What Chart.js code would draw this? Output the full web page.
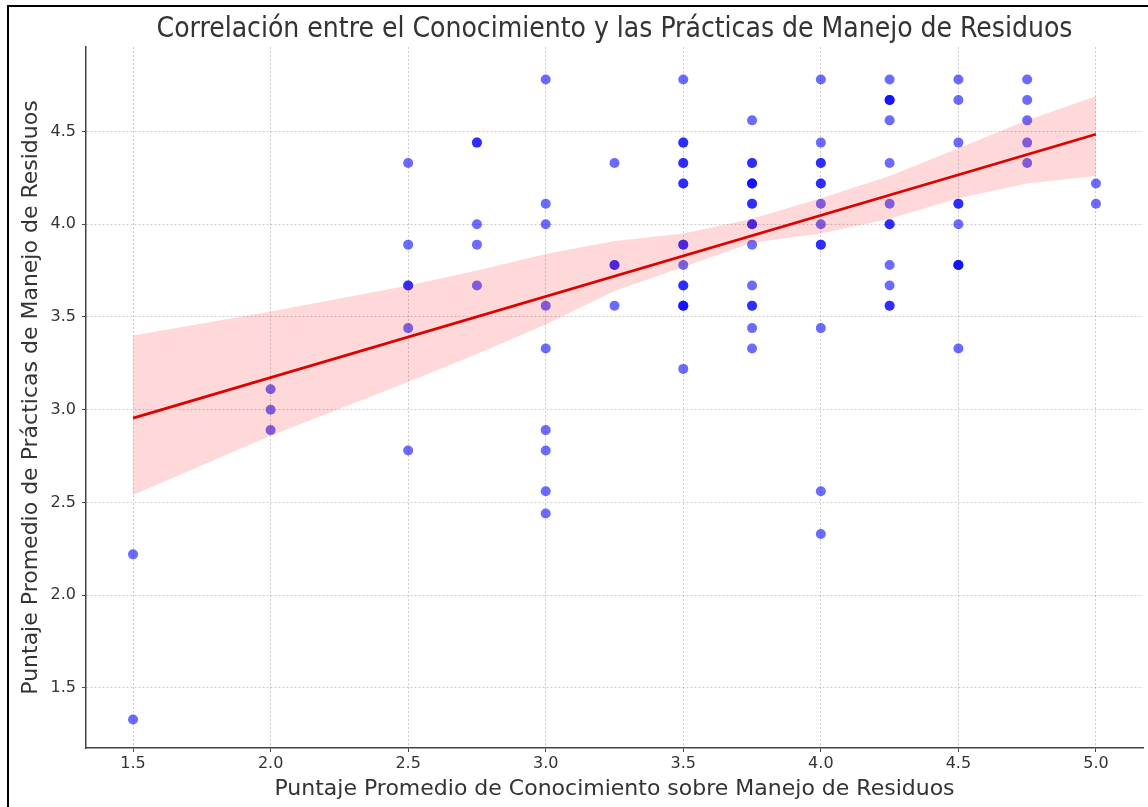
<!DOCTYPE html>
<html>
<head>
<meta charset="utf-8">
<script src="https://cdn.jsdelivr.net/npm/chart.js@4"></script>
<style>
  html, body { margin: 0; padding: 0; background: #fff; }
  #wrap { position: relative; width: 1148px; height: 807px; }
</style>
</head>
<body>
<div id="wrap"><canvas id="chart" width="1148" height="807"></canvas></div>
<script>
// Knowledge score levels (x) and the practices scores seen at each level (y),
// read off the picture; repeated values are overlapping respondents
const knowledgeLevels = [1.5, 2.0, 2.5, 2.75, 3.0, 3.25, 3.5, 3.75, 4.0, 4.25, 4.5, 4.75, 5.0];
const practicesAt1_5 = [2.22, 1.33];
const practicesAt2_0 = [3.11, 3.0, 2.89];
const practicesAt2_5 = [4.33, 3.89, 3.67, 3.67, 3.44, 2.78];
const practicesAt2_75 = [4.44, 4.44, 4.0, 3.89, 3.67];
const practicesAt3_0 = [4.78, 4.11, 4.0, 3.56, 3.33, 2.89, 2.78, 2.56, 2.44];
const practicesAt3_25 = [4.33, 3.78, 3.78, 3.56];
const practicesAt3_5 = [4.78, 4.44, 4.44, 4.33, 4.33, 4.22, 4.22, 3.89, 3.89, 3.78, 3.67, 3.67, 3.56, 3.56, 3.56, 3.22];
const practicesAt3_75 = [4.56, 4.33, 4.33, 4.22, 4.22, 4.22, 4.11, 4.11, 4.0, 4.0, 3.89, 3.67, 3.56, 3.56, 3.44, 3.33];
const practicesAt4_0 = [4.78, 4.44, 4.33, 4.33, 4.22, 4.22, 4.11, 4.0, 3.89, 3.89, 3.44, 2.56, 2.33];
const practicesAt4_25 = [4.78, 4.67, 4.67, 4.67, 4.56, 4.33, 4.11, 4.0, 4.0, 3.78, 3.67, 3.56, 3.56];
const practicesAt4_5 = [4.78, 4.67, 4.44, 4.11, 4.11, 4.0, 3.78, 3.78, 3.78, 3.33];
const practicesAt4_75 = [4.78, 4.67, 4.56, 4.44, 4.33];
const practicesAt5_0 = [4.22, 4.11];
const practicesByLevel = [
    practicesAt1_5, practicesAt2_0, practicesAt2_5, practicesAt2_75, practicesAt3_0,
    practicesAt3_25, practicesAt3_5, practicesAt3_75, practicesAt4_0, practicesAt4_25,
    practicesAt4_5, practicesAt4_75, practicesAt5_0
];

// regression line end points and confidence band
const fitX = [1.5, 5.0];
const fitY = [2.955, 4.485];
const bandX = [1.5, 2.0, 2.5, 2.75, 3.0, 3.25, 3.5, 3.75, 4.0, 4.25, 4.5, 4.75, 5.0];
const bandUpper = [3.40, 3.53, 3.67, 3.75, 3.84, 3.91, 3.95, 4.03, 4.14, 4.26, 4.41, 4.56, 4.69];
const bandLower = [2.54, 2.86, 3.15, 3.30, 3.46, 3.64, 3.77, 3.90, 3.95, 4.03, 4.14, 4.22, 4.26];

const xTicks = [1.5, 2.0, 2.5, 3.0, 3.5, 4.0, 4.5, 5.0];
const yTicks = [1.5, 2.0, 2.5, 3.0, 3.5, 4.0, 4.5];

const toPoints = (xs, ys) => xs.map((x, i) => ({ x: x, y: ys[i] }));

const scatterPoints = [];
knowledgeLevels.forEach((k, i) => {
    practicesByLevel[i].forEach((p) => scatterPoints.push({ x: k, y: p }));
});

// thin black frame on the top and left edges of the picture
const frame = {
    id: "frame",
    afterDraw(chart) {
        const ctx = chart.ctx;
        ctx.save();
        ctx.fillStyle = "#000";
        ctx.fillRect(7, 5, 1141, 2);
        ctx.fillRect(7, 5, 2, 802);
        ctx.restore();
    }
};

const textColor = "#333";

new Chart(document.getElementById("chart"), {
    type: "scatter",
    data: {
        datasets: [
            {
                type: "line",
                data: toPoints(fitX, fitY),
                borderColor: "#e00000",
                borderWidth: 2.8,
                pointRadius: 0,
                fill: false,
                order: 0
            },
            {
                type: "line",
                data: toPoints(bandX, bandLower),
                borderWidth: 0,
                pointRadius: 0,
                fill: false,
                order: 2
            },
            {
                type: "line",
                data: toPoints(bandX, bandUpper),
                borderWidth: 0,
                pointRadius: 0,
                backgroundColor: "rgba(255,0,0,0.15)",
                fill: "-1",
                order: 1
            },
            {
                data: scatterPoints,
                backgroundColor: "rgba(0,0,255,0.58)",
                borderWidth: 0,
                pointRadius: 5,
                order: 3
            }
        ]
    },
    options: {
        responsive: false,
        animation: false,
        layout: { padding: { left: 0, right: 5, top: 0, bottom: 0 } },
        plugins: {
            legend: { display: false },
            tooltip: { enabled: false },
            title: {
                display: true,
                fullSize: false, // center over the plot area, not the whole canvas
                text: "Correlación entre el Conocimiento y las Prácticas de Manejo de Residuos",
                color: textColor,
                font: { family: "'DejaVu Sans Condensed', 'DejaVu Sans'", size: 28, weight: "normal", lineHeight: 1.2 },
                padding: { top: 13, bottom: 0.5 }
            }
        },
        scales: {
            x: {
                type: "linear",
                min: 1.329,
                max: 5.171,
                afterBuildTicks: (s) => { s.ticks = xTicks.map((v) => ({ value: v })); },
                afterFit: (s) => { s.height = 59; },
                ticks: {
                    color: textColor,
                    font: { family: "'DejaVu Sans'", size: 16 },
                    padding: 2,
                    callback: (v) => Number(v).toFixed(1)
                },
                grid: { color: "rgba(0,0,0,0.2)", tickColor: "#444", tickLength: 4, tickBorderDash: [] },
                border: { color: "#444", width: 1.5, dash: [2, 2] },
                title: {
                    display: true,
                    text: "Puntaje Promedio de Conocimiento sobre Manejo de Residuos",
                    color: textColor,
                    font: { family: "'DejaVu Sans'", size: 22, lineHeight: 1.2 },
                    padding: { top: 0, bottom: 5 }
                }
            },
            y: {
                type: "linear",
                min: 1.176,
                max: 4.955,
                afterBuildTicks: (s) => { s.ticks = yTicks.map((v) => ({ value: v })); },
                afterFit: (s) => { s.width = 86; },
                ticks: {
                    color: textColor,
                    font: { family: "'DejaVu Sans'", size: 16 },
                    padding: 6,
                    callback: (v) => Number(v).toFixed(1)
                },
                grid: { color: "rgba(0,0,0,0.2)", tickColor: "#444", tickLength: 4, tickBorderDash: [] },
                border: { color: "#444", width: 1.5, dash: [2, 2] },
                title: {
                    display: true,
                    text: "Puntaje Promedio de Prácticas de Manejo de Residuos",
                    color: textColor,
                    font: { family: "'DejaVu Sans'", size: 22, lineHeight: 1.2 },
                    padding: { top: 18, bottom: 0 }
                }
            }
        }
    },
    plugins: [frame]
});
</script>
</body>
</html>
